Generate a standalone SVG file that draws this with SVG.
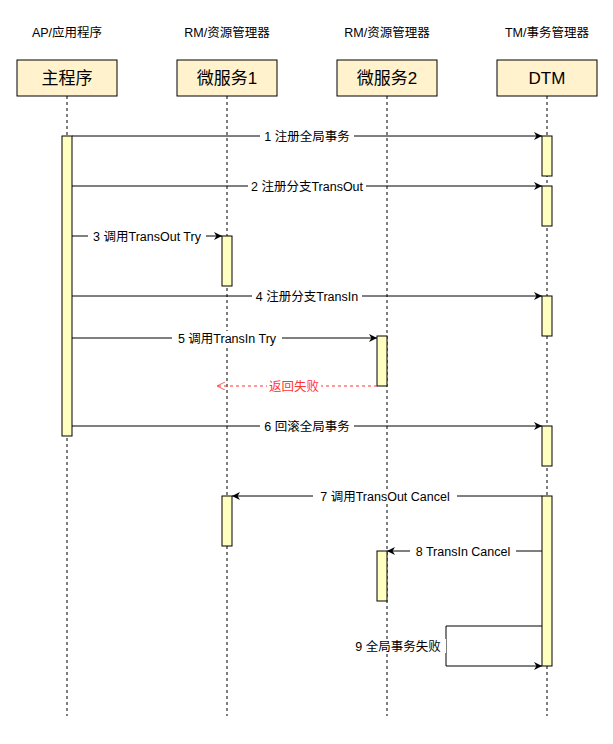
<svg xmlns="http://www.w3.org/2000/svg" width="613" height="744" viewBox="0 0 613 744">
<style>
text{font-family:"Liberation Sans","Noto Sans CJK SC",sans-serif;fill:#000}
.h{font-size:12.5px;text-anchor:middle}
.b{fill:#fff2cc;stroke:#000;stroke-width:1}
.act{fill:#ffffc0;stroke:#000;stroke-width:1}
.bt{font-size:17px;text-anchor:middle}
.ll{stroke:#000;stroke-dasharray:3 3;fill:none}
.m{stroke:#000;fill:none;marker-end:url(#a)}
.lb{font-size:12.5px;text-anchor:middle}
.bg{fill:#fff}
</style>
<defs>
<marker id="a" viewBox="0 0 10 10" refX="10" refY="5" markerWidth="8" markerHeight="8" orient="auto" markerUnits="userSpaceOnUse"><path d="M0,0 L10,5 L0,10 L3,5 Z" fill="#000"/></marker>
<marker id="o" viewBox="0 0 10 10" refX="10" refY="5" markerWidth="8" markerHeight="8" orient="auto" markerUnits="userSpaceOnUse"><path d="M0,0 L10,5 L0,10" fill="none" stroke="#f33"/></marker>
</defs>
<rect width="613" height="744" fill="#fff"/>
<g id="main"><text class="h" x="67" y="37">AP/应用程序</text><rect class="b" x="17" y="60" width="100" height="36"/><text class="bt" x="67" y="84">主程序</text><line class="ll" x1="67" y1="96" x2="67" y2="716"/><rect class="act" x="62" y="136" width="10" height="300"/></g>
<g id="ms1"><text class="h" x="227" y="37">RM/资源管理器</text><rect class="b" x="177" y="60" width="100" height="36"/><text class="bt" x="227" y="84">微服务1</text><line class="ll" x1="227" y1="96" x2="227" y2="716"/><rect class="act" x="222" y="236" width="10" height="50"/><rect class="act" x="222" y="496" width="10" height="50"/></g>
<g id="ms2"><text class="h" x="387" y="37">RM/资源管理器</text><rect class="b" x="337" y="60" width="100" height="36"/><text class="bt" x="387" y="84">微服务2</text><line class="ll" x1="387" y1="96" x2="387" y2="716"/><rect class="act" x="377" y="336" width="10" height="50"/><rect class="act" x="377" y="551" width="10" height="50"/></g>
<g id="dtm"><text class="h" x="547" y="37">TM/事务管理器</text><rect class="b" x="497" y="60" width="100" height="36"/><text class="bt" x="547" y="84">DTM</text><line class="ll" x1="547" y1="96" x2="547" y2="716"/><rect class="act" x="542" y="136" width="10" height="40"/><rect class="act" x="542" y="186" width="10" height="40"/><rect class="act" x="542" y="296" width="10" height="40"/><rect class="act" x="542" y="426" width="10" height="40"/><rect class="act" x="542" y="496" width="10" height="170"/></g>
<g id="connectors">
<line class="m" x1="72" y1="136" x2="542" y2="136"/><rect class="bg" x="260" y="129" width="94" height="14"/><text class="lb" x="307" y="141">1 注册全局事务</text>
<line class="m" x1="72" y1="186" x2="542" y2="186"/><rect class="bg" x="248" y="179" width="118" height="14"/><text class="lb" x="307" y="191">2 注册分支TransOut</text>
<line class="m" x1="72" y1="236" x2="222" y2="236"/><rect class="bg" x="88" y="229" width="118" height="14"/><text class="lb" x="147" y="241">3 调用TransOut Try</text>
<line class="m" x1="72" y1="296" x2="542" y2="296"/><rect class="bg" x="252" y="289" width="110" height="14"/><text class="lb" x="307" y="301">4 注册分支TransIn</text>
<line class="m" x1="72" y1="338" x2="377" y2="338"/><rect class="bg" x="172" y="331" width="110" height="14"/><text class="lb" x="227" y="343">5 调用TransIn Try</text>
<line x1="377" y1="386" x2="217" y2="386" stroke="#f33" stroke-dasharray="3 3" marker-end="url(#o)"/><rect class="bg" x="267" y="379" width="54" height="14"/><text class="lb" x="294" y="391" style="fill:#f33">返回失败</text>
<line class="m" x1="72" y1="426" x2="542" y2="426"/><rect class="bg" x="260" y="419" width="94" height="14"/><text class="lb" x="307" y="431">6 回滚全局事务</text>
<line class="m" x1="542" y1="496" x2="232" y2="496"/><rect class="bg" x="313" y="489" width="144" height="14"/><text class="lb" x="385" y="501">7 调用TransOut Cancel</text>
<line class="m" x1="542" y1="551" x2="387" y2="551"/><rect class="bg" x="410" y="544" width="106" height="14"/><text class="lb" x="463" y="556">8 TransIn Cancel</text>
<path class="m" d="M542,626 H446 V666 H542"/><rect class="bg" x="350" y="639" width="96" height="14"/><text class="lb" x="398" y="651">9 全局事务失败</text>
</g>
</svg>
